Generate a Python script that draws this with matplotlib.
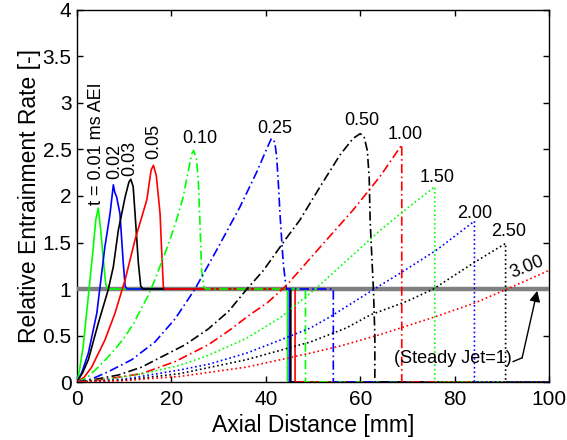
import matplotlib
matplotlib.use("Agg")
import matplotlib.pyplot as plt

plt.rcParams['font.family'] = ['Liberation Sans', 'DejaVu Sans']

# entrainment rate profiles, one per time after end of injection
x_001 = [0, 0.5, 1.3, 2.4, 3.45, 4.0, 4.5, 5.0, 5.6, 6.1, 6.5, 44.6, 44.6, 100]
y_001 = [0, 0.12, 0.38, 0.92, 1.45, 1.75, 1.87, 1.65, 1.30, 1.05, 1.0, 1.0, 0, 0]

x_002 = [0, 1.0, 2.4, 4.2, 5.9, 7.0, 7.7, 8.0, 8.4, 9.1, 9.8, 10.2, 10.6, 45.0, 45.0, 100]
y_002 = [0, 0.10, 0.31, 0.74, 1.45, 1.81, 2.12, 2.04, 1.99, 1.81, 1.28, 1.03, 1.0, 1.0, 0, 0]

x_003 = [0, 1.2, 2.4, 4.5, 6.6, 7.7, 8.75, 10.2, 11.0, 11.4, 11.9, 12.3, 13.0, 13.5, 14.0, 45.3, 45.3, 100]
y_003 = [0, 0.10, 0.24, 0.63, 0.99, 1.24, 1.63, 1.99, 2.15, 2.18, 2.10, 1.81, 1.28, 1.03, 1.0, 1.0, 0, 0]

x_005 = [0, 1.5, 3.1, 5.9, 8.05, 10.2, 12.3, 14.8, 15.7, 16.2, 16.8, 17.6, 17.9, 18.3, 18.7, 46.2, 46.2, 100]
y_005 = [0, 0.05, 0.16, 0.45, 0.74, 1.10, 1.53, 1.96, 2.28, 2.33, 2.22, 1.81, 1.45, 1.02, 1.0, 1.0, 0, 0]

x_010 = [0, 1.5, 2.4, 4.5, 6.6, 8.5, 10.2, 12.0, 13.5, 15.0, 16.5, 18.0, 19.5, 21.0, 22.5, 23.7, 24.3, 24.7,
         25.3, 25.7, 26.1, 26.4, 26.9, 27.3, 48.4, 48.4, 100]
y_010 = [0, 0.03, 0.06, 0.16, 0.27, 0.38, 0.49, 0.63, 0.78, 0.92, 1.10, 1.30, 1.50, 1.73, 1.99, 2.30, 2.45, 2.49,
         2.40, 2.17, 1.63, 1.20, 1.02, 1.0, 1.0, 0, 0]

x_025 = [0, 3.0, 6.6, 11.6, 16.5, 20.8, 25.0, 29.6, 34.5, 38.1, 40.3, 41.2, 41.9, 42.3, 42.7, 43.0, 43.4, 43.7,
         44.1, 44.4, 54.3, 54.3, 100]
y_025 = [0, 0.03, 0.11, 0.24, 0.43, 0.68, 1.0, 1.42, 1.88, 2.26, 2.52, 2.62, 2.58, 2.42, 2.10, 1.81, 1.50, 1.28,
         1.10, 1.0, 1.0, 0, 0]

x_050 = [0, 4.0, 8.75, 13.7, 17.9, 22.9, 27.8, 32.1, 36.0, 39.5, 44.4, 47.2, 51.5, 55.7, 58.5, 60.0, 60.8, 61.5,
         61.9, 62.1, 62.5, 62.8, 63.1, 63.1, 100]
y_050 = [0, 0.03, 0.075, 0.16, 0.27, 0.40, 0.57, 0.76, 1.0, 1.20, 1.55, 1.74, 2.10, 2.44, 2.62, 2.67, 2.64, 2.49,
         2.20, 1.74, 1.30, 1.0, 0.5, 0, 0]

x_100 = [0, 6.0, 13.7, 20.8, 27.8, 32.4, 36.0, 40.5, 44.4, 51.5, 58.5, 64.2, 68.8, 68.8, 100]
y_100 = [0, 0.03, 0.09, 0.22, 0.40, 0.56, 0.70, 0.86, 1.04, 1.45, 1.85, 2.21, 2.55, 0, 0]

x_150 = [0, 8.0, 14.0, 21.8, 28.0, 35.9, 43.0, 50.5, 57.0, 64.2, 70.0, 75.8, 75.8, 100]
y_150 = [0, 0.04, 0.09, 0.18, 0.29, 0.47, 0.69, 1.0, 1.30, 1.63, 1.87, 2.10, 0, 0]

x_200 = [0, 10.0, 21.8, 27.8, 35.9, 43.0, 49.4, 53.6, 58.0, 63.0, 69.1, 76.2, 84.2, 84.2, 100]
y_200 = [0, 0.03, 0.13, 0.19, 0.31, 0.45, 0.58, 0.70, 0.84, 1.0, 1.19, 1.42, 1.73, 0, 0]

x_250 = [0, 10.0, 21.8, 35.9, 49.4, 57.0, 62.1, 70.0, 75.5, 84.3, 90.8, 90.8, 100]
y_250 = [0, 0.02, 0.09, 0.24, 0.43, 0.58, 0.72, 0.87, 1.0, 1.29, 1.49, 0, 0]

x_300 = [0, 10.0, 21.8, 35.9, 49.4, 56.0, 64.2, 69.1, 75.8, 84.3, 90.7, 100]
y_300 = [0, 0.015, 0.06, 0.16, 0.31, 0.39, 0.51, 0.59, 0.70, 0.85, 0.99, 1.20]

series_x = [x_001, x_002, x_003, x_005, x_010, x_025, x_050, x_100, x_150, x_200, x_250, x_300]
series_y = [y_001, y_002, y_003, y_005, y_010, y_025, y_050, y_100, y_150, y_200, y_250, y_300]
green = (0, 1, 0)
colors = [green, 'b', 'k', 'r', green, 'b', 'k', 'r', green, 'b', 'k', 'r']
styles = ['-', '-', '-', '-', '-.', '-.', '-.', '-.', ':', ':', ':', ':']

time_labels = ['t = 0.01 ms AEI', '0.02', '0.03', '0.05', '0.10', '0.25', '0.50',
               '1.00', '1.50', '2.00', '2.50', '3.00']
label_x = [4.2, 8.0, 11.2, 16.2, 26.1, 41.9, 60.3, 69.5, 76.3, 84.3, 91.4, 95.4]
label_y = [1.90, 2.18, 2.22, 2.40, 2.62, 2.73, 2.81, 2.66, 2.20, 1.81, 1.62, 1.23]
label_rot = [90, 90, 90, 90, 0, 0, 0, 0, 0, 0, 0, 22]

fig = plt.figure(figsize=(5.67, 4.4), dpi=100)
ax = fig.add_axes([0.1358, 0.1318, 0.8325, 0.8455])

# steady jet reference
ax.plot([0, 100], [1, 1], color='0.5', lw=3.2, zorder=1.8)

for xs, ys, c, ls in zip(series_x, series_y, colors, styles):
    if ls == '-.':
        ax.plot(xs, ys, color=c, lw=1.2, dashes=(5.5, 2, 1, 2))
    else:
        ax.plot(xs, ys, color=c, lw=1.2, linestyle=ls)

for txt, tx, ty, rot in zip(time_labels, label_x, label_y, label_rot):
    if rot == 90:
        ax.text(tx, ty, txt, rotation=90, ha='center', va='bottom', fontsize=13)
    else:
        ax.text(tx, ty, txt, rotation=rot, ha='center', va='center', fontsize=13,
                rotation_mode='anchor')

ax.text(79.6, 0.25, '(Steady Jet=1)', ha='center', va='center', fontsize=13)
ax.plot([92.4, 94.3], [0.22, 0.26], color='k', lw=1)
ax.annotate('', xy=(97.5, 0.98), xytext=(94.3, 0.26),
            arrowprops=dict(arrowstyle='-|>', color='k', lw=1, mutation_scale=16,
                            shrinkA=0, shrinkB=0))

ax.set_xlim(0, 100)
ax.set_ylim(0, 4)
ax.set_xticks([0, 20, 40, 60, 80, 100])
ax.set_yticks([0, 0.5, 1, 1.5, 2, 2.5, 3, 3.5, 4])
ax.set_yticklabels(['0', '0.5', '1', '1.5', '2', '2.5', '3', '3.5', '4'])
ax.tick_params(direction='in', top=True, right=True, length=4, labelsize=15, width=1, pad=4)
ax.tick_params(axis='x', pad=6)
for sp in ax.spines.values():
    sp.set_linewidth(1)
    sp.set_zorder(1.5)

ax.set_xlabel('Axial Distance [mm]', fontsize=16.5, labelpad=3)
ax.set_ylabel('Relative Entrainment Rate [-]', fontsize=16.5, labelpad=1)

fig.savefig('out.png', dpi=100)
